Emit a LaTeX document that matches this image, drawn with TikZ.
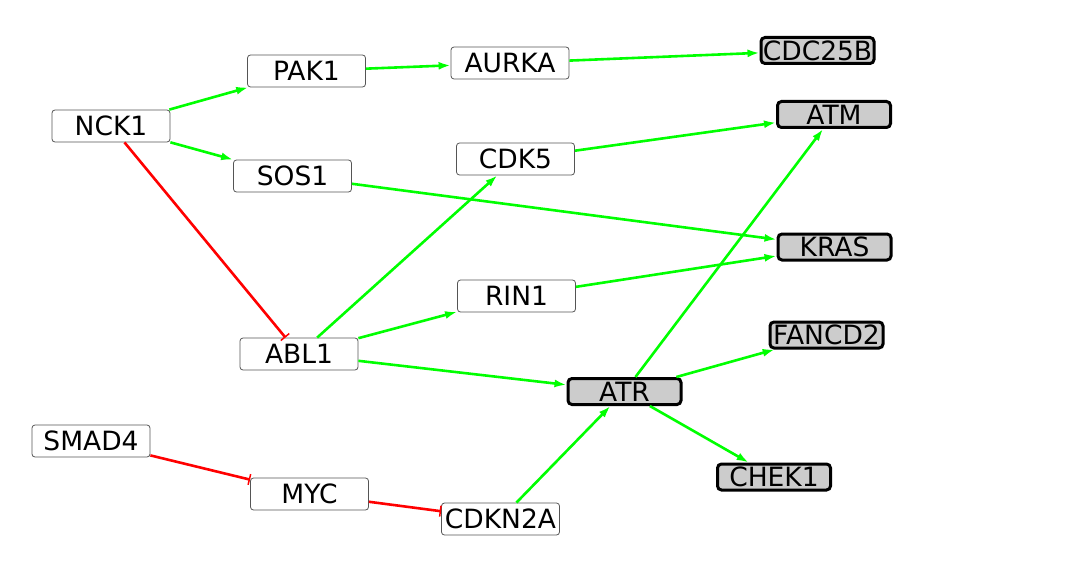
\documentclass[tikz,border=0pt]{standalone}
\usepackage{fontspec}
\setmainfont{DejaVu Sans}
\usetikzlibrary{arrows.meta}
\definecolor{gfill}{HTML}{CCCCCC}
\definecolor{wborder}{HTML}{555555}
\definecolor{actc}{HTML}{00FF00}
\definecolor{inhc}{HTML}{FF0000}
\begin{document}
\begin{tikzpicture}[x=1pt,y=-1pt,
  wnode/.style={draw=wborder, line width=0.8pt, rounded corners=3pt, fill=white,
    minimum width=118pt, minimum height=32pt, inner sep=0pt,
    font=\fontsize{26.5}{30}\selectfont},
  gnode/.style={draw=black, line width=3pt, rounded corners=4pt, fill=gfill,
    minimum width=113pt, minimum height=26pt, inner sep=0pt,
    font=\fontsize{26.5}{30}\selectfont},
  act/.style={draw=actc, line width=2.6pt, -{Latex[length=12pt,width=8pt]}},
  inh/.style={draw=inhc, line width=2.6pt, -{Bar[width=11pt,line width=1.5pt]}}
]
\useasboundingbox (0,0) rectangle (1081,583);
\node[wnode] (NCK1) at (111,126) {NCK1};
\node[wnode] (PAK1) at (306.5,71) {PAK1};
\node[wnode] (SOS1) at (292.5,176) {SOS1};
\node[wnode] (AURKA) at (510,63) {AURKA};
\node[wnode] (CDK5) at (515.5,159) {CDK5};
\node[wnode] (RIN1) at (516.5,296) {RIN1};
\node[wnode] (ABL1) at (299,354) {ABL1};
\node[wnode] (SMAD4) at (91,441) {SMAD4};
\node[wnode] (MYC) at (309.5,494) {MYC};
\node[wnode] (CDKN2A) at (500.5,519) {CDKN2A};
\node[gnode] (CDC25B) at (817.5,50.5) {CDC25B};
\node[gnode] (ATM) at (834,114.5) {ATM};
\node[gnode] (KRAS) at (834.5,247) {KRAS};
\node[gnode] (FANCD2) at (826.5,335) {FANCD2};
\node[gnode] (ATR) at (624.5,391.5) {ATR};
\node[gnode] (CHEK1) at (774,477) {CHEK1};

\draw[act] (NCK1) -- (PAK1);
\draw[act] (NCK1) -- (SOS1);
\draw[inh] (NCK1) -- (ABL1);
\draw[act] (PAK1) -- (AURKA);
\draw[act] (AURKA) -- (CDC25B);
\draw[act] (CDK5) -- (ATM);
\draw[act] (SOS1) -- (KRAS);
\draw[act] (ABL1) -- (CDK5);
\draw[act] (ABL1) -- (RIN1);
\draw[act] (ABL1) -- (ATR);
\draw[act] (RIN1) -- (KRAS);
\draw[act] (ATR) -- (ATM);
\draw[act] (ATR) -- (FANCD2);
\draw[act] (ATR) -- (CHEK1);
\draw[inh] (SMAD4) -- (MYC);
\draw[inh] (MYC) -- (CDKN2A);
\draw[act] (CDKN2A) -- (ATR);
\end{tikzpicture}
\end{document}
